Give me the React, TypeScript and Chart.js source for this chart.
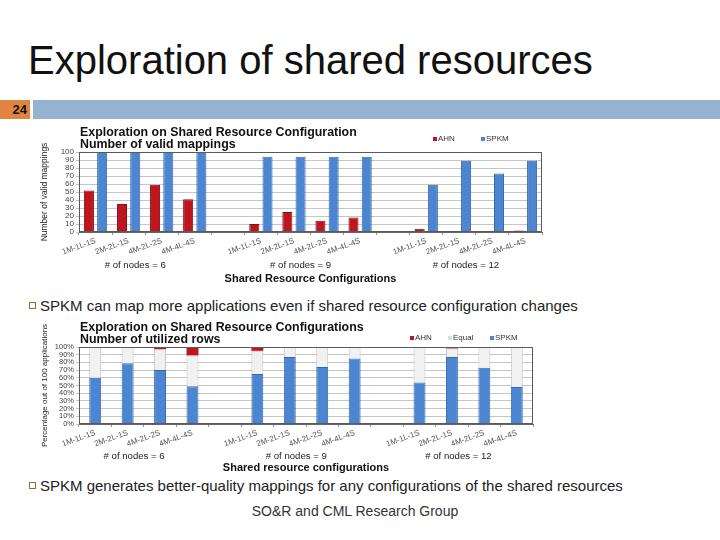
import React, { useEffect, useRef } from "react";
import { Chart, registerables } from "chart.js";
Chart.register(...registerables);

const categories = [
  "1M-1L-1S", "2M-2L-1S", "4M-2L-2S", "4M-4L-4S", "",
  "1M-1L-1S", "2M-2L-1S", "4M-2L-2S", "4M-4L-4S", "",
  "1M-1L-1S", "2M-2L-1S", "4M-2L-2S", "4M-4L-4S",
];
const groupLabels = ["# of nodes = 6", "# of nodes = 9", "# of nodes = 12"];
const groupStarts = [0, 5, 10];
const yTicks = [0, 10, 20, 30, 40, 50, 60, 70, 80, 90, 100];

const validAHN = [52, 35, 59, 41, null, 10, 25, 14, 18, null, 4, 1, 1, 2];
const validSPKM = [100, 100, 100, 100, null, 94, 94, 94, 94, null, 59, 89, 73, 89];

const rowsAHN = [0, 0, 3, 11, null, 5, 0, 0, 0, null, 0, 2, 0, 0];
const rowsEqual = [40, 21, 27, 40, null, 30, 13, 26, 15, null, 46, 11, 27, 52];
const rowsSPKM = [60, 79, 70, 49, null, 65, 87, 74, 85, null, 54, 87, 73, 48];

const RED = "#BE1620";
const RED_B = "#8E0E14";
const BLUE = "#4C86D2";
const BLUE_B = "#3568A8";
const GREY = "#F1F1F1";
const GREY_B = "#C4C4C4";
const FONT = '"Liberation Sans", Arial, sans-serif';

type DecoOpts = {
  titles: string[];
  legend: { label: string; color: string; dx: number }[];
  legendDy: number;
  groupDy: number;
};

function decoPlugin(o: DecoOpts) {
  return {
    id: "deco",
    afterDraw(chart: any) {
      const { ctx, chartArea: a } = chart;
      const x = chart.scales.x;
      ctx.save();
      ctx.strokeStyle = "#5a5a5a";
      ctx.lineWidth = 1;
      ctx.strokeRect(Math.round(a.left) + 0.5, Math.round(a.top) + 0.5, Math.round(a.right - a.left) - 1, Math.round(a.bottom - a.top) - 1);
      ctx.fillStyle = "#111";
      ctx.font = "bold 12.4px " + FONT;
      ctx.textAlign = "left";
      ctx.textBaseline = "middle";
      o.titles.forEach((t, i) => ctx.fillText(t, a.left + 1, a.top - 19 + i * 12));
      ctx.font = "8px " + FONT;
      o.legend.forEach((l) => {
        const lx = a.right + l.dx;
        const ly = a.top + o.legendDy;
        ctx.fillStyle = l.color;
        ctx.fillRect(lx, ly - 2, 4, 4);
        ctx.fillStyle = "#333";
        ctx.fillText(l.label, lx + 5, ly);
      });
      ctx.font = "9.6px " + FONT;
      ctx.textAlign = "center";
      ctx.fillStyle = "#222";
      groupStarts.forEach((g, i) => {
        ctx.fillText(groupLabels[i], x.getPixelForValue(g + 1.2), a.bottom + o.groupDy);
      });
      ctx.restore();
    },
  };
}

const setYTicks = (s: any) => { s.ticks = yTicks.map((v) => ({ value: v })); };

function ValidChart() {
  const ref = useRef<HTMLCanvasElement>(null);
  useEffect(() => {
    const chart = new Chart(ref.current!, {
      type: "bar",
      data: {
        labels: categories,
        datasets: [
          { label: "AHN", data: validAHN, backgroundColor: RED, borderColor: RED_B, borderWidth: 1 },
          { label: "SPKM", data: validSPKM, backgroundColor: BLUE, borderColor: BLUE_B, borderWidth: 1 },
        ],
      },
      options: {
        animation: false,
        responsive: false,
        layout: { padding: { top: 32, right: 3, left: 0, bottom: 0 } },
        plugins: { legend: { display: false }, tooltip: { enabled: false }, title: { display: false } },
        datasets: { bar: { categoryPercentage: 0.8, barPercentage: 0.76 } },
        scales: {
          x: {
            afterFit: (s: any) => { s.height = 58; },
            grid: { display: true, drawOnChartArea: false, drawTicks: true, tickLength: 3, offset: true, color: "#999" },
            border: { display: true, color: "#666" },
            ticks: { autoSkip: false, minRotation: 20, maxRotation: 20, font: { size: 8, family: FONT }, color: "#555", padding: 1 },
            title: { display: true, text: "Shared Resource Configurations", font: { size: 11, weight: "bold", family: FONT }, color: "#111", padding: { top: 0, bottom: 4 } },
          },
          y: {
            min: 0, max: 100,
            afterFit: (s: any) => { s.width = 49; },
            afterBuildTicks: setYTicks,
            grid: { color: "#c6c6c6", tickLength: 3, drawTicks: true },
            border: { display: true, color: "#666" },
            ticks: { autoSkip: false, font: { size: 8, family: FONT }, color: "#444", padding: 2 },
            title: { display: true, text: "Number of valid mappings", font: { size: 8.5, family: FONT }, color: "#222", padding: { top: 10, bottom: 0 } },
          },
        },
      },
      plugins: [decoPlugin({
        titles: ["Exploration on Shared Resource Configuration", "Number of valid mappings"],
        legend: [{ label: "AHN", color: RED, dx: -109 }, { label: "SPKM", color: BLUE, dx: -61 }],
        legendDy: -13,
        groupDy: 33,
      })],
    } as any);
    return () => chart.destroy();
  }, []);
  return <canvas ref={ref} width={515} height={170} style={{ position: "absolute", left: 30, top: 120 }} />;
}

function RowsChart() {
  const ref = useRef<HTMLCanvasElement>(null);
  useEffect(() => {
    const chart = new Chart(ref.current!, {
      type: "bar",
      data: {
        labels: categories,
        datasets: [
          { label: "SPKM", data: rowsSPKM, backgroundColor: BLUE, borderColor: BLUE_B, borderWidth: 1 },
          { label: "Equal", data: rowsEqual, backgroundColor: GREY, borderColor: GREY_B, borderWidth: 1 },
          { label: "AHN", data: rowsAHN, backgroundColor: RED, borderColor: RED_B, borderWidth: 0 },
        ],
      },
      options: {
        animation: false,
        responsive: false,
        layout: { padding: { top: 32, right: 3, left: 0, bottom: 0 } },
        plugins: { legend: { display: false }, tooltip: { enabled: false }, title: { display: false } },
        datasets: { bar: { categoryPercentage: 0.8, barPercentage: 0.46 } },
        scales: {
          x: {
            stacked: true,
            afterFit: (s: any) => { s.height = 53; },
            grid: { display: true, drawOnChartArea: false, drawTicks: true, tickLength: 3, offset: true, color: "#999" },
            border: { display: true, color: "#666" },
            ticks: { autoSkip: false, minRotation: 20, maxRotation: 20, font: { size: 8, family: FONT }, color: "#555", padding: 1 },
            title: { display: true, text: "Shared resource configurations", font: { size: 11, weight: "bold", family: FONT }, color: "#111", padding: { top: 0, bottom: 2 } },
          },
          y: {
            stacked: true,
            min: 0, max: 100,
            afterFit: (s: any) => { s.width = 49; },
            afterBuildTicks: setYTicks,
            grid: { color: "#c6c6c6", tickLength: 3, drawTicks: true },
            border: { display: true, color: "#666" },
            ticks: { autoSkip: false, font: { size: 7.5, family: FONT }, color: "#444", padding: 2, callback: (v: any) => v + "%" },
            title: { display: true, text: "Percentage out of 100 applications", font: { size: 8, family: FONT }, color: "#222", padding: { top: 10, bottom: 0 } },
          },
        },
      },
      plugins: [decoPlugin({
        titles: ["Exploration on Shared Resource Configurations", "Number of utilized rows"],
        legend: [{ label: "AHN", color: RED, dx: -123 }, { label: "Equal", color: "#ddd", dx: -85 }, { label: "SPKM", color: BLUE, dx: -43 }],
        legendDy: -9,
        groupDy: 32,
      })],
    } as any);
    return () => chart.destroy();
  }, []);
  return <canvas ref={ref} width={506} height={162} style={{ position: "absolute", left: 30, top: 315 }} />;
}

const bulletBox: React.CSSProperties = {
  position: "absolute", left: 29, width: 5, height: 5, border: "1px solid #9a6a3a",
};
const bulletText: React.CSSProperties = {
  position: "absolute", left: 40, fontSize: 15, lineHeight: "16px", color: "#222", whiteSpace: "nowrap",
};

export default function App() {
  return (
    <div style={{ position: "absolute", left: 0, top: 0, width: 720, height: 540, overflow: "hidden", background: "#fff", fontFamily: FONT }}>
      <div style={{ position: "absolute", left: 28, top: 40, fontSize: 40, lineHeight: "40px", color: "#111", whiteSpace: "nowrap" }}>
        Exploration of shared resources
      </div>
      <div style={{ position: "absolute", left: 0, top: 100, width: 30, height: 19, background: "#E0843F" }}>
        <div style={{ position: "absolute", right: 3, top: 2, fontSize: 13, fontWeight: "bold", lineHeight: "16px", color: "#111" }}>24</div>
      </div>
      <div style={{ position: "absolute", left: 33, top: 100, width: 687, height: 19, background: "#95B3D1" }} />
      <ValidChart />
      <div style={{ ...bulletBox, top: 302 }} />
      <div style={{ ...bulletText, top: 298 }}>SPKM can map more applications even if shared resource configuration changes</div>
      <RowsChart />
      <div style={{ ...bulletBox, top: 482 }} />
      <div style={{ ...bulletText, top: 478 }}>SPKM generates better-quality mappings for any configurations of the shared resources</div>
      <div style={{ position: "absolute", left: 0, width: 710, top: 503, textAlign: "center", fontSize: 14, lineHeight: "16px", color: "#333" }}>
        SO&amp;R and CML Research Group
      </div>
    </div>
  );
}
